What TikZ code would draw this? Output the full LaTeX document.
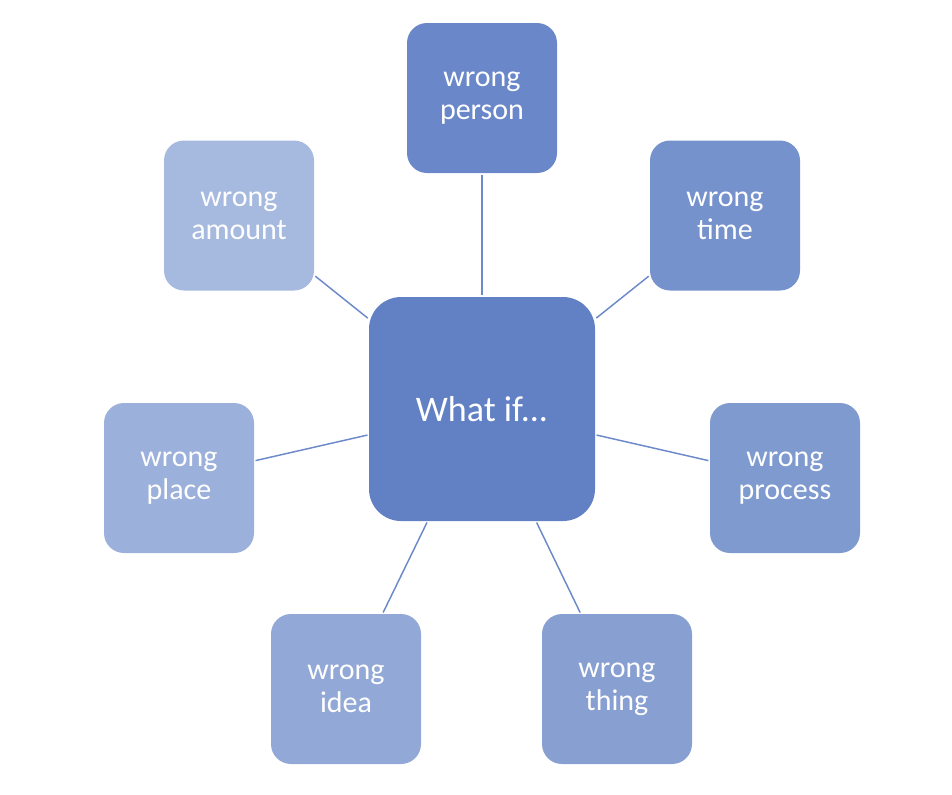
\documentclass[tikz,border=0pt]{standalone}
\usepackage{fontspec}
\setmainfont{Carlito}
\usepackage{tikz}
\usetikzlibrary{positioning}
\definecolor{chub}{RGB}{97,129,196}
\definecolor{cperson}{RGB}{106,136,201}
\definecolor{ctime}{RGB}{118,146,204}
\definecolor{cprocess}{RGB}{127,154,207}
\definecolor{cthing}{RGB}{136,159,210}
\definecolor{cidea}{RGB}{146,168,214}
\definecolor{cplace}{RGB}{155,176,218}
\definecolor{camount}{RGB}{166,185,222}
\definecolor{cline}{RGB}{108,137,201}

\begin{document}
\begin{tikzpicture}[
    x=0.75pt, y=-0.75pt,
    hubbox/.style={rounded corners=24pt, minimum width=169.5pt, minimum height=168pt, text=white, fill=chub,
        font=\fontsize{27}{30}\selectfont, inner sep=0pt},
    wrongbox/.style={rounded corners=15pt, minimum width=112.5pt, minimum height=112.5pt, text=white,
        font=\fontsize{22.5}{24.75}\selectfont, align=center, inner sep=0pt},
    link/.style={cline, line width=1.1pt},
]
    \useasboundingbox (0,0) rectangle (952,794);

    % centre
    \node[hubbox] (hub) at (482,409) {What if...};

    % the seven boxes round it
    \node[wrongbox, fill=cperson] (person) at (482,98) {wrong\\person};
    \node[wrongbox, fill=ctime] (time) at (725,215.5) {wrong\\time};
    \node[wrongbox, fill=cprocess] (process) at (785,478) {wrong\\process};
    \node[wrongbox, fill=cthing] (thing) at (617,689) {wrong\\thing};
    \node[wrongbox, fill=cidea] (idea) at (346,689) {wrong\\idea};
    \node[wrongbox, fill=cplace] (place) at (179,478) {wrong\\place};
    \node[wrongbox, fill=camount] (amount) at (239,215.5) {wrong\\amount};

    % links
    \foreach \n in {person, time, process, thing, idea, place, amount}
        \draw[link, shorten <=1pt, shorten >=1pt] (hub) -- (\n);
\end{tikzpicture}
\end{document}
